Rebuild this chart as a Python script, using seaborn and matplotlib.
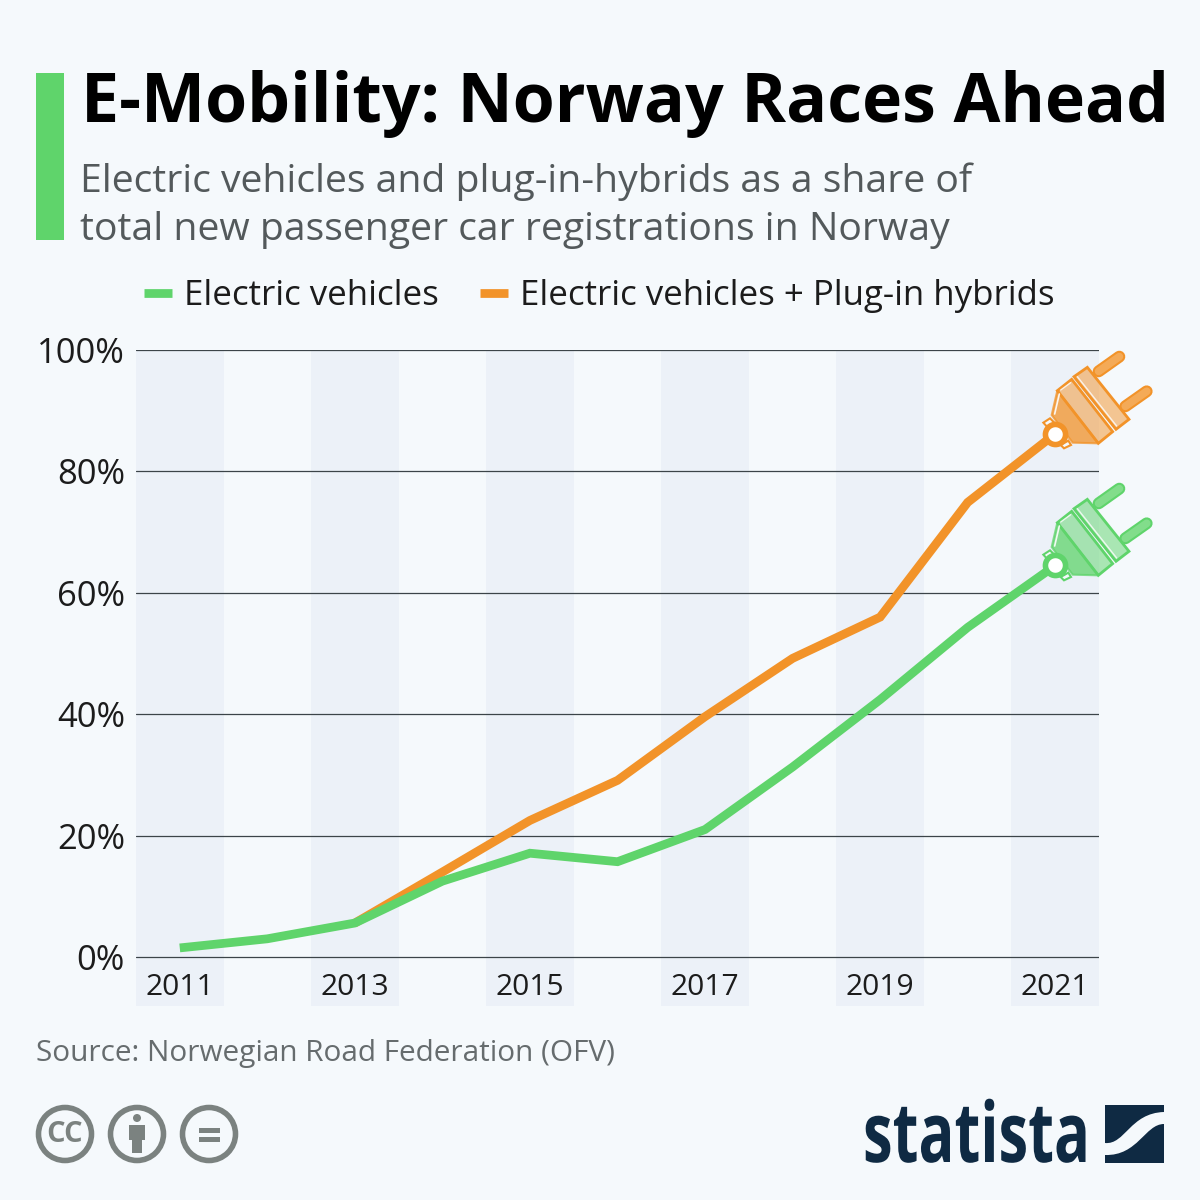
import numpy as np
import pandas as pd
import seaborn as sns
import matplotlib
matplotlib.use("Agg")
import matplotlib.pyplot as plt
from matplotlib.patches import Circle, Polygon, Rectangle, PathPatch
from matplotlib.patheffects import AbstractPathEffect
from matplotlib.path import Path
from matplotlib.transforms import Affine2D

years = [2011, 2012, 2013, 2014, 2015, 2016, 2017, 2018, 2019, 2020, 2021]
electric = [1.5, 3.0, 5.6, 12.5, 17.1, 15.7, 21.0, 31.3, 42.4, 54.3, 64.5]
electric_hybrid = [None, None, 5.6, 14.0, 22.5, 29.1, 39.6, 49.2, 56.0, 74.9, 86.2]
y_ticks = [0, 20, 40, 60, 80, 100]
x_ticks = [2011, 2013, 2015, 2017, 2019, 2021]
name_ev = "Electric vehicles"
name_phev = "Electric vehicles + Plug-in hybrids"

GREEN = "#5FD46B"
ORANGE = "#F29329"
BG = "#F5F9FC"
BAND = "#ECF1F8"
DARK = "#3C4449"

df = pd.DataFrame({"year": years, name_ev: electric, name_phev: electric_hybrid})
long_df = df.melt("year", var_name="series", value_name="share").dropna()

sns.set_theme(style="white")
plt.rcParams["font.family"] = ["Open Sans", "DejaVu Sans"]

fig = plt.figure(figsize=(12, 12), dpi=100, facecolor=BG)
# axes area in pixels: x 136-1099, y 350-1006 (bands run below the 0% line)
ax = fig.add_axes([136 / 1200, 1 - 1006 / 1200, 963 / 1200, 656 / 1200])
ax.set_facecolor("none")

# pixel coordinates of the reference, y down
px = Affine2D().scale(1, -1).translate(0, 1200)

for yr in range(2011, 2022, 2):
    ax.axvspan(yr - 0.5, yr + 0.5, color=BAND, lw=0, zorder=0)
for t in y_ticks:
    ax.axhline(t, color=DARK, lw=0.9, zorder=1)

sns.lineplot(data=long_df, x="year", y="share", hue="series",
             hue_order=[name_phev, name_ev],
             palette={name_ev: GREEN, name_phev: ORANGE},
             lw=6.3, ax=ax, zorder=3, solid_capstyle="butt", solid_joinstyle="miter")

ax.set_xlim(2010.5, 2021.5)
ax.set_ylim(-8.07, 100)
ax.set_xticks(x_ticks)
ax.set_yticks(y_ticks)
ax.set_yticklabels([f"{t}%" for t in y_ticks])
ax.set_xlabel("")
ax.set_ylabel("")
ax.tick_params(axis="y", length=0, labelsize=24.8, pad=8, labelcolor="#1c1c1c")
ax.tick_params(axis="x", length=0, labelsize=21.6, pad=-24, labelcolor="#1c1c1c")
sns.despine(ax=ax, left=True, bottom=True)


def draw_plug(dy, col):
    def pt(x, y):
        # zoomed crop coordinates to reference pixels
        return 1000 + x / 3, 340 + (y + dy) / 3

    def shape(pts, **kw):
        ax.add_patch(Polygon([pt(x, y) for x, y in pts], closed=True, transform=px,
                             clip_on=False, zorder=4, **kw))

    def stroke(x0, y0, x1, y1, **kw):
        a, b = pt(x0, y0), pt(x1, y1)
        ax.plot([a[0], b[0]], [a[1], b[1]], transform=px, clip_on=False, zorder=4, **kw)

    for seg in [(296, 94, 358, 50), (376, 199, 440, 154)]:
        stroke(*seg, color=col, lw=8.6, solid_capstyle="round")
        stroke(*seg, color="white", lw=5.6, alpha=0.22, solid_capstyle="round")
    shape([(130, 248), (150, 235), (170, 255), (150, 270)], facecolor=BG, edgecolor=col, lw=1.5)
    shape([(182, 315), (205, 302), (213, 315), (192, 325)], facecolor=BG, edgecolor=col, lw=1.5)
    shape([(172, 152), (155, 225), (218, 308), (295, 310)], facecolor=col, alpha=0.75, edgecolor=col, lw=1.5)
    shape([(172, 152), (215, 118), (338, 275), (295, 310)], facecolor=col, alpha=0.5, edgecolor="none")
    shape([(172, 152), (215, 118), (338, 275), (295, 310)], facecolor="none", edgecolor=col, lw=2)
    shape([(222, 110), (262, 82), (387, 238), (348, 268)], facecolor=col, alpha=0.5, edgecolor="none")
    shape([(222, 110), (262, 82), (387, 238), (348, 268)], facecolor="none", edgecolor=col, lw=2)
    stroke(232, 110, 350, 258, color="white", lw=1, alpha=0.8)
    stroke(182, 150, 212, 128, color="white", lw=1, alpha=0.8)
    stroke(178, 162, 164, 222, color="white", lw=1.2, alpha=0.9)


draw_plug(0, ORANGE)
draw_plug(396, GREEN)

# end markers sit on the last data points
ax.scatter([years[-1]], [electric_hybrid[-1]], s=210, facecolor="white", edgecolor=ORANGE,
           linewidth=4, zorder=6, clip_on=False)
ax.scatter([years[-1]], [electric[-1]], s=210, facecolor="white", edgecolor=GREEN,
           linewidth=4, zorder=6, clip_on=False)

handles, labels = ax.get_legend_handles_labels()
leg = ax.legend(handles[::-1], labels[::-1], ncol=2, frameon=False, loc="center",
                bbox_to_anchor=(599.5 / 1200, 1 - 296 / 1200), bbox_transform=fig.transFigure,
                fontsize=25.15, handlelength=0.8, handletextpad=0.34, columnspacing=1.17,
                labelcolor="#1c1c1c")
for line in leg.get_lines():
    line.set_linewidth(6.3)

# header
fig.add_artist(Rectangle((36 / 1200, 1 - 240 / 1200), 28 / 1200, 167 / 1200,
                         transform=fig.transFigure, color=GREEN, lw=0))
fig.text(81 / 1200, 1 - 104 / 1200, "E-Mobility: Norway Races Ahead", fontsize=48.95,
         fontweight="bold", color="black", va="center", ha="left")
fig.text(80 / 1200, 1 - 182 / 1200, "Electric vehicles and plug-in-hybrids as a share of",
         fontsize=28.15, color="#53595B", va="center", ha="left")
fig.text(80 / 1200, 1 - 230 / 1200, "total new passenger car registrations in Norway",
         fontsize=28.15, color="#53595B", va="center", ha="left")
fig.text(36 / 1200, 1 - 1053 / 1200, "Source: Norwegian Road Federation (OFV)", fontsize=21.4,
         color="#666C6E", va="center", ha="left")

# licence badges
GREY = "#7B8280"
for cx in (65, 137, 209):
    fig.add_artist(Circle((cx, 1134), 26.5, transform=px, facecolor="none", edgecolor=GREY, lw=4))
fig.text(65 / 1200, 1 - 1134 / 1200, "CC", fontsize=21, fontweight="bold", color=GREY,
         va="center", ha="center")
fig.add_artist(Circle((137, 1118), 4, transform=px, color=GREY, lw=0))
fig.add_artist(Polygon([(129, 1125), (145, 1125), (145, 1140), (142, 1140), (142, 1153),
                        (132, 1153), (132, 1140), (129, 1140)], transform=px, color=GREY, lw=0))
fig.add_artist(Rectangle((199, 1128), 21, 5, transform=px, color=GREY, lw=0))
fig.add_artist(Rectangle((199, 1137), 21, 5, transform=px, color=GREY, lw=0))


class SqueezeX(AbstractPathEffect):
    # no condensed bold font here, so narrow the glyphs around x0
    def __init__(self, x0, factor):
        super().__init__()
        self.x0, self.factor = x0, factor

    def draw_path(self, renderer, gc, tpath, affine, rgbFace=None):
        squeeze = Affine2D().translate(-self.x0, 0).scale(self.factor, 1).translate(self.x0, 0)
        renderer.draw_path(gc, tpath, affine + squeeze, rgbFace)


# statista logo
NAVY = "#0F2A43"
fig.text(863 / 1200, 1 - 1162 / 1200, "statista", fontsize=60, fontweight="bold", color=NAVY,
         va="baseline", ha="left", path_effects=[SqueezeX(863, 0.715)])
fig.add_artist(Rectangle((1105, 1105), 59, 58, transform=px, color=NAVY, lw=0))
band = Path([(1105, 1143), (1125, 1145), (1130, 1113), (1164, 1112), (1164, 1124),
             (1145, 1124), (1138, 1156), (1105, 1155), (1105, 1143)],
            [Path.MOVETO, Path.CURVE4, Path.CURVE4, Path.CURVE4, Path.LINETO,
             Path.CURVE4, Path.CURVE4, Path.CURVE4, Path.CLOSEPOLY])
fig.add_artist(PathPatch(band, transform=px, facecolor=BG, edgecolor="none"))

fig.savefig("out.png", dpi=100, facecolor=BG)
